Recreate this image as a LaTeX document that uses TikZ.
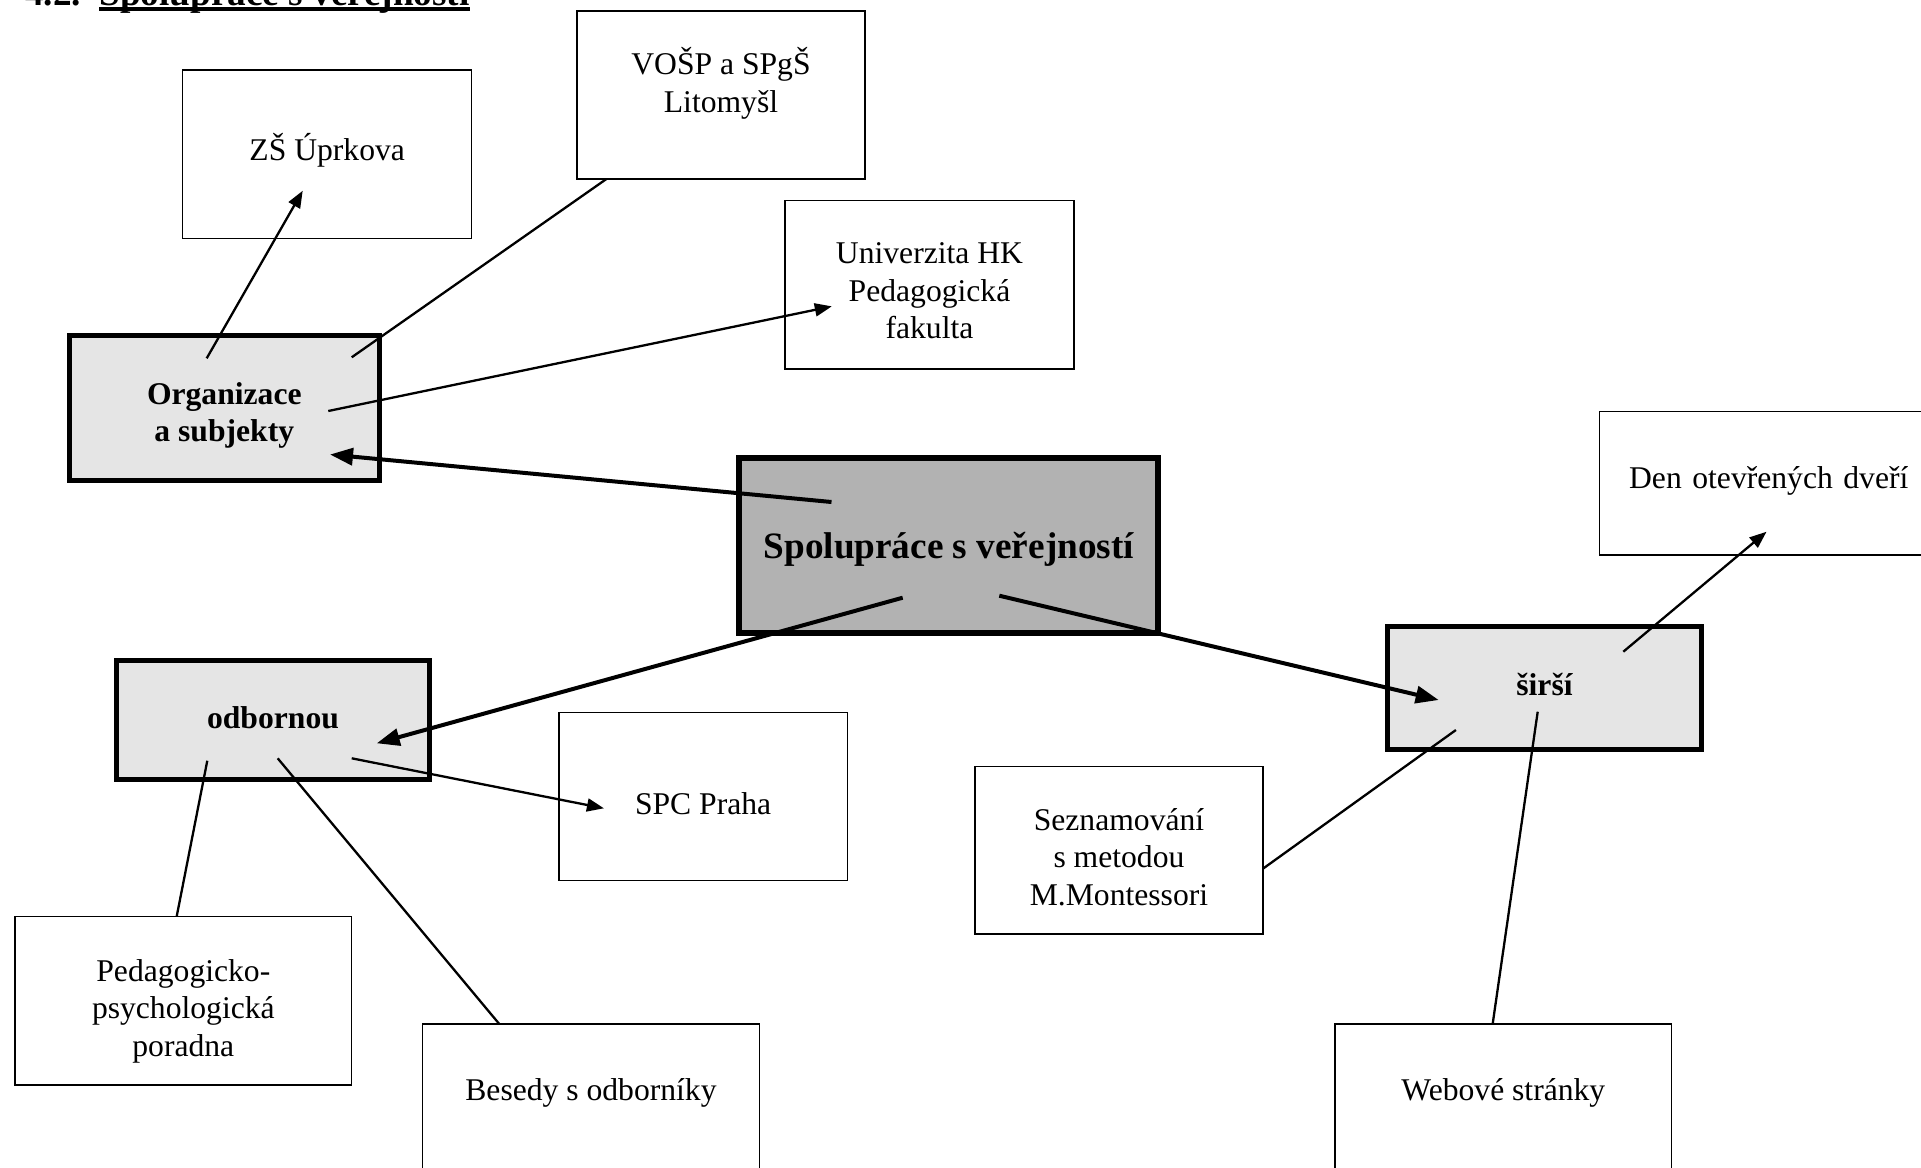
\documentclass[tikz,border=0pt]{standalone}
\usepackage{fontspec}
\setmainfont{Liberation Serif}
\usepackage{tikz}
\usetikzlibrary{arrows.meta}

\definecolor{hubgray}{gray}{0.9}
\definecolor{maingray}{gray}{0.7}

\begin{document}
\begin{tikzpicture}[
  x=0.02cm, y=-0.02cm,
  box/.style={draw, line width=0.026cm, align=center, inner ysep=0pt,
    font=\fontsize{18pt}{21.4pt}\selectfont},
  hub/.style={box, fill=hubgray, line width=0.1cm,
    font=\fontsize{18pt}{21.4pt}\selectfont\bfseries},
  mainbox/.style={box, fill=maingray, line width=0.12cm,
    font=\fontsize{21.2pt}{25pt}\selectfont\bfseries},
  heading/.style={anchor=base west, inner sep=0pt,
    font=\fontsize{21.2pt}{25pt}\selectfont\bfseries},
  link/.style={line width=0.046cm},
  linkarrow/.style={link, -{Triangle[length=0.34cm,width=0.26cm]}},
  bigarrow/.style={line width=0.08cm, -{Triangle[length=0.46cm,width=0.34cm]}}
]
\useasboundingbox (0,0) rectangle (1921,1167);
\clip (0,0) rectangle (1921,1167);

% heading, only its lower edge is on the page
\node[heading] (hdnum) at (25,5.5) {4.2.};
\node[heading] (hdtitle) at (99,5.5) {Spolupráce s veřejností};
\draw[line width=0.068cm] ([shift={(0,3.5)}]hdtitle.base west) -- ([shift={(0,3.5)}]hdtitle.base east);

% centre
\node[mainbox, minimum width=8.38cm, text height=2cm, text depth=1.488cm] (spol) at (948.8,545.5) {Spolupráce s veřejností};

% the three kinds (text height is measured to the last line)
\node[hub, minimum width=6.2cm, text height=2.13cm, text depth=0.778cm] (org) at (224.3,408) {Organizace\\a subjekty};
\node[hub, minimum width=6.252cm, text height=1.366cm, text depth=1.034cm] (odb) at (273,720) {odbornou};
\node[hub, minimum width=6.3cm, text height=1.366cm, text depth=1.086cm] (sirsi) at (1544.5,688) {širší};

% partners
\node[box, minimum width=5.78cm, text height=1.8cm, text depth=1.566cm] (zs) at (327.2,154.15) {ZŠ Úprkova};
\node[box, minimum width=5.76cm, text height=2.02cm, text depth=1.34cm] (vosp) at (721,95) {VOŠP a SPgŠ\\Litomyšl};
\node[box, minimum width=5.78cm, text height=2.77cm, text depth=0.6cm] (univ) at (929.5,284.75) {Univerzita HK\\Pedagogická\\fakulta};
\node[box, align=left, inner xsep=0.6cm, text width=5.7cm, text height=1.532cm, text depth=1.334cm] (den) at (1771.6,483.35) {Den otevřených dveří}; %<-- runs past the right edge
\node[box, minimum width=5.766cm, text height=2.04cm, text depth=1.328cm] (spc) at (703.15,796.5) {SPC Praha};
\node[box, minimum width=5.76cm, text height=2.77cm, text depth=0.576cm] (sezn) at (1119,850.35) {Seznamování\\s metodou\\M.Montessori};
\node[box, minimum width=6.734cm, text height=2.79cm, text depth=0.576cm] (ppp) at (183.35,1000.85) {Pedagogicko-\\psychologická\\poradna};
\node[box, minimum width=6.732cm, text height=1.534cm, text depth=1.826cm] (bes) at (591,1108) {Besedy s odborníky};
\node[box, minimum width=6.734cm, text height=1.534cm, text depth=1.826cm] (web) at (1503.35,1108) {Webové stránky};

% connectors
\draw[bigarrow] ([shift={(-117.3,-43.5)}]spol.center) -- ([shift={(105.7,46.5)}]org.center);
\draw[bigarrow] ([shift={(-46.1,52.2)}]spol.center) -- ([shift={(103.7,23.3)}]odb.center);
\draw[bigarrow] ([shift={(50.5,50.2)}]spol.center) -- ([shift={(-105.8,12)}]sirsi.center);

\draw[linkarrow] ([shift={(-17.6,-49.7)}]org.center) -- ([shift={(-24.5,36.6)}]zs.center);
\draw[link] ([shift={(127.4,-50.7)}]org.center) -- ([shift={(-114.6,84)}]vosp.center);
\draw[linkarrow] ([shift={(104,3)}]org.center) -- ([shift={(-97.7,21.6)}]univ.center);

\draw[linkarrow] ([shift={(78.7,38.3)}]odb.center) -- ([shift={(-99.2,11.8)}]spc.center);
\draw[link] ([shift={(-65.7,40.7)}]odb.center) -- ([shift={(-6.7,-84.2)}]ppp.center);
\draw[link] ([shift={(4.7,38.3)}]odb.center) -- ([shift={(-91.7,-84)}]bes.center);

\draw[linkarrow] ([shift={(78.8,-36.3)}]sirsi.center) -- ([shift={(-5.1,48.4)}]den.center);
\draw[link] ([shift={(-88.6,42)}]sirsi.center) -- ([shift={(144,18.3)}]sezn.center);
\draw[link] ([shift={(-6.8,23.7)}]sirsi.center) -- ([shift={(-10.7,-84)}]web.center);
\end{tikzpicture}
\end{document}
